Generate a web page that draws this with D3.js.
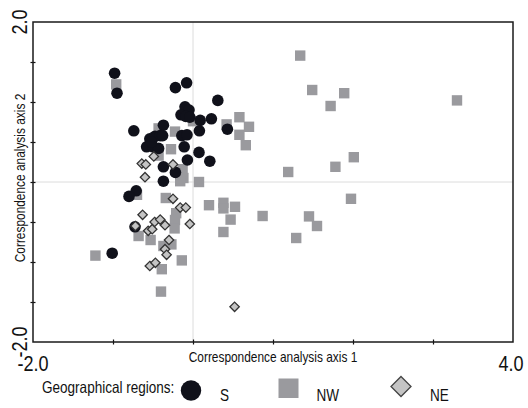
<!DOCTYPE html>
<html>
<head>
<meta charset="utf-8">
<script src="https://cdn.jsdelivr.net/npm/d3@7"></script>
<style>
  html, body { margin: 0; padding: 0; background: #fff; }
  svg { display: block; }
  text { font-family: 'Liberation Sans Narrow', 'Arial Narrow', 'Liberation Sans', Arial, sans-serif; fill: #111; }
</style>
</head>
<body>
<svg id="chart" width="528" height="408"></svg>
<script>
// ---- data ----
const sX = [-0.98,-0.95,-0.22,-0.08,0.31,-0.10,-0.05,-0.15,-0.09,-0.04,0.09,0.23,-0.37,-0.74,-0.14,-0.075,0.08,0.43,-0.54,-0.475,-0.41,-0.58,-0.50,-0.43,-0.52,-0.38,-0.11,0.075,-0.07,0.21,-0.37,-0.22,-0.37,-0.71,-0.80,-0.725,-1.01];
const sY = [1.36,1.11,1.18,1.24,1.02,0.94,0.90,0.84,0.82,0.81,0.77,0.79,0.71,0.64,0.58,0.59,0.64,0.66,0.54,0.57,0.58,0.44,0.44,0.42,0.50,0.58,0.44,0.37,0.275,0.26,0.19,0.12,0.01,-0.11,-0.18,-0.56,-0.89];

const nwX = [-0.96,1.34,1.49,1.89,1.72,3.30,0.0,-0.43,-0.225,0.42,0.58,0.70,0.58,0.66,-0.275,-0.43,-0.13,-0.12,-0.16,0.075,2.01,1.78,1.19,1.975,-0.70,-0.34,0.20,0.38,0.38,0.525,0.47,0.38,0.87,1.45,1.55,1.29,-0.21,-0.225,-0.23,-0.68,-0.53,-0.37,-0.27,-1.22,-0.14,-0.39,-0.40];
const nwY = [1.22,1.58,1.15,1.11,0.95,1.02,0.76,0.67,0.63,0.72,0.81,0.69,0.59,0.46,0.41,0.33,0.16,0.05,0.01,0.0,0.31,0.19,0.125,-0.21,-0.16,-0.20,-0.29,-0.26,-0.33,-0.31,-0.47,-0.625,-0.425,-0.43,-0.55,-0.70,-0.39,-0.475,-0.58,-0.675,-0.725,-0.80,-0.78,-0.92,-0.98,-1.09,-1.37];

const neX = [-0.64,-0.59,-0.49,-0.25,-0.60,-0.25,-0.16,-0.09,-0.63,-0.04,-0.48,-0.41,-0.35,-0.72,-0.56,-0.51,-0.30,-0.35,-0.33,-0.54,-0.47,0.52];
const neY = [0.23,0.22,0.32,0.22,0.06,-0.21,-0.32,-0.32,-0.41,-0.525,-0.50,-0.47,-0.54,-0.55,-0.61,-0.59,-0.725,-0.84,-0.91,-1.05,-1.01,-1.56];

const xDomain = [-2, 4];
const yDomain = [-2, 2];
const xTickValues = [-1, 0, 1, 2, 3];
const yTickValues = [-1.5, -1, -0.5, 0, 0.5, 1, 1.5];
const xEndLabels = ["-2.0", "4.0"];
const yEndLabels = ["-2.0", "2.0"];
const xTitle = "Correspondence analysis axis 1";
const yTitle = "Correspondence analysis axis 2";
const legendTitle = "Geographical regions:";
const seriesNames = ["S", "NW", "NE"];

// ---- layout ----
const svg = d3.select("#chart");
const L = 33, R = 513, T = 22, B = 342;
const x = d3.scaleLinear().domain(xDomain).range([L, R]);
const y = d3.scaleLinear().domain(yDomain).range([B, T]);

// zero gridlines
svg.append("line").attr("x1", x(0)).attr("x2", x(0)).attr("y1", T).attr("y2", B)
  .attr("stroke", "#dcdcdc").attr("stroke-width", 1);
svg.append("line").attr("x1", L).attr("x2", R).attr("y1", y(0)).attr("y2", y(0))
  .attr("stroke", "#dcdcdc").attr("stroke-width", 1);

// markers: squares, then circles, then diamonds
const nw = nwX.map((v, i) => [v, nwY[i]]);
const s = sX.map((v, i) => [v, sY[i]]);
const ne = neX.map((v, i) => [v, neY[i]]);

const sq = 10.4;
svg.append("g").selectAll("rect").data(nw).join("rect")
  .attr("x", d => x(d[0]) - sq / 2).attr("y", d => y(d[1]) - sq / 2)
  .attr("width", sq).attr("height", sq)
  .attr("fill", "#9a9a9e");

svg.append("g").selectAll("circle").data(s).join("circle")
  .attr("cx", d => x(d[0])).attr("cy", d => y(d[1])).attr("r", 5.8)
  .attr("fill", "#10111a");

const dh = 4.7;
svg.append("g").selectAll("path").data(ne).join("path")
  .attr("d", d => {
    const cx = x(d[0]), cy = y(d[1]);
    return `M${cx},${cy - dh}L${cx + dh},${cy}L${cx},${cy + dh}L${cx - dh},${cy}Z`;
  })
  .attr("fill", "#c4c4c4").attr("stroke", "#333").attr("stroke-width", 1.3);

// axes ticks (crossing the frame)
const axB = svg.append("g").attr("transform", `translate(0,${B - 2.5})`)
  .call(d3.axisBottom(x).tickValues(xTickValues).tickSize(5).tickFormat(""));
axB.select(".domain").remove();
const axL = svg.append("g").attr("transform", `translate(${L + 2.5},0)`)
  .call(d3.axisLeft(y).tickValues(yTickValues).tickSize(5).tickFormat(""));
axL.select(".domain").remove();
svg.selectAll(".tick line").attr("stroke", "#111").attr("stroke-width", 1.2);

// frame
svg.append("rect").attr("x", L).attr("y", T).attr("width", R - L).attr("height", B - T)
  .attr("fill", "none").attr("stroke", "#1a1a1a").attr("stroke-width", 1.5);

// end labels
svg.append("text").attr("x", x(xDomain[0])).attr("y", 371).attr("text-anchor", "middle")
  .attr("font-size", 22).text(xEndLabels[0]);
svg.append("text").attr("x", x(xDomain[1]) - 2).attr("y", 371).attr("text-anchor", "middle")
  .attr("font-size", 22).text(xEndLabels[1]);
svg.append("text").attr("transform", `translate(27,${y(yDomain[0])}) rotate(-90)`)
  .attr("text-anchor", "middle").attr("font-size", 22).text(yEndLabels[0]);
svg.append("text").attr("transform", `translate(27,${y(yDomain[1])}) rotate(-90)`)
  .attr("text-anchor", "middle").attr("font-size", 22).text(yEndLabels[1]);

// titles
svg.append("text").attr("x", (L + R) / 2).attr("y", 362).attr("text-anchor", "middle")
  .attr("font-size", 14.5).text(xTitle);
svg.append("text").attr("transform", `translate(25,178) rotate(-90)`)
  .attr("text-anchor", "middle").attr("font-size", 14.5).text(yTitle);

// legend
svg.append("text").attr("x", 42).attr("y", 393).attr("font-size", 16.5).text(legendTitle);
svg.append("circle").attr("cx", 191).attr("cy", 390.5).attr("r", 10.2).attr("fill", "#10111a");
svg.append("text").attr("x", 220).attr("y", 400.5).attr("font-size", 16.5).text(seriesNames[0]);
svg.append("rect").attr("x", 278.5).attr("y", 378.5).attr("width", 20).attr("height", 19.5).attr("fill", "#9a9a9e");
svg.append("text").attr("x", 316.5).attr("y", 400.5).attr("font-size", 16.5).text(seriesNames[1]);
svg.append("path").attr("d", "M401,376.5L411,386.5L401,396.5L391,386.5Z")
  .attr("fill", "#c4c4c4").attr("stroke", "#444").attr("stroke-width", 1.3);
svg.append("text").attr("x", 430).attr("y", 400.5).attr("font-size", 16.5).text(seriesNames[2]);

// fallback if no narrow font is installed: condense glyphs to match
(function () {
  const t1 = svg.append("text").style("font-family", "'Liberation Sans Narrow', 'Arial Narrow', 'Liberation Sans'").attr("font-size", 20).text("Geographical regions");
  const t2 = svg.append("text").style("font-family", "'Liberation Sans'").attr("font-size", 20).text("Geographical regions");
  const w1 = t1.node().getComputedTextLength(), w2 = t2.node().getComputedTextLength();
  t1.remove(); t2.remove();
  if (w1 > 0.95 * w2) {
    svg.selectAll("text").each(function () {
      const w = this.getComputedTextLength();
      d3.select(this).attr("textLength", w * 0.82).attr("lengthAdjust", "spacingAndGlyphs");
    });
  }
})();
</script>
</body>
</html>
